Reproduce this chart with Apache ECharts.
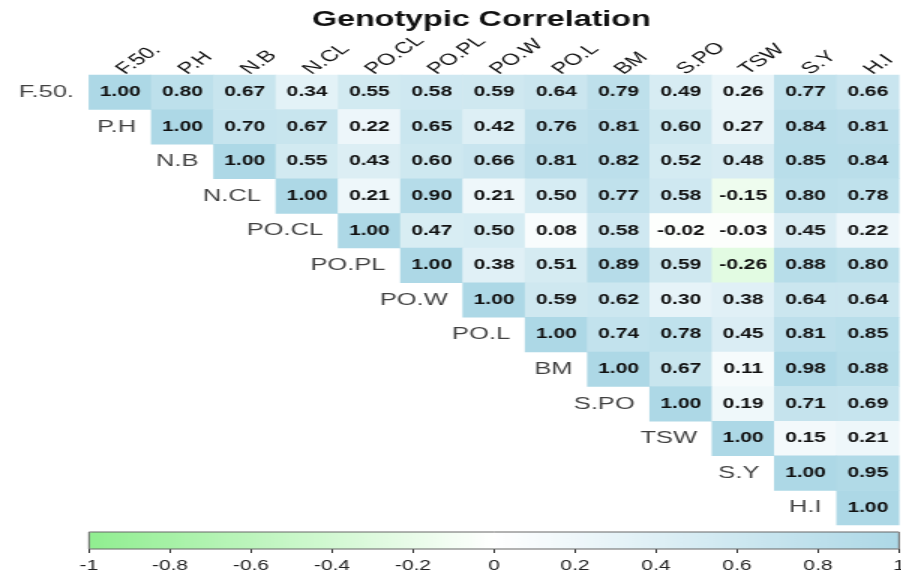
<!DOCTYPE html>
<html>
<head>
<meta charset="utf-8">
<script src="https://cdn.jsdelivr.net/npm/echarts@6/dist/echarts.min.js"></script>
<style>
  html, body { margin: 0; padding: 0; background: #fff; overflow: hidden; }
  /* the reference is a horizontally stretched R plot, so draw narrow and stretch */
  #chart { width: 601px; height: 575px; transform: scaleX(1.5); transform-origin: 0 0; }
</style>
</head>
<body>
<div id="chart"></div>
<script>
// trait names
const traits = ['F.50.', 'P.H', 'N.B', 'N.CL', 'PO.CL', 'PO.PL', 'PO.W', 'PO.L', 'BM', 'S.PO', 'TSW', 'S.Y', 'H.I'];

// upper triangle, each row starts at the diagonal
const rF50 = [1.00, 0.80, 0.67, 0.34, 0.55, 0.58, 0.59, 0.64, 0.79, 0.49, 0.26, 0.77, 0.66];
const rPH = [1.00, 0.70, 0.67, 0.22, 0.65, 0.42, 0.76, 0.81, 0.60, 0.27, 0.84, 0.81];
const rNB = [1.00, 0.55, 0.43, 0.60, 0.66, 0.81, 0.82, 0.52, 0.48, 0.85, 0.84];
const rNCL = [1.00, 0.21, 0.90, 0.21, 0.50, 0.77, 0.58, -0.15, 0.80, 0.78];
const rPOCL = [1.00, 0.47, 0.50, 0.08, 0.58, -0.02, -0.03, 0.45, 0.22];
const rPOPL = [1.00, 0.38, 0.51, 0.89, 0.59, -0.26, 0.88, 0.80];
const rPOW = [1.00, 0.59, 0.62, 0.30, 0.38, 0.64, 0.64];
const rPOL = [1.00, 0.74, 0.78, 0.45, 0.81, 0.85];
const rBM = [1.00, 0.67, 0.11, 0.98, 0.88];
const rSPO = [1.00, 0.19, 0.71, 0.69];
const rTSW = [1.00, 0.15, 0.21];
const rSY = [1.00, 0.95];
const rHI = [1.00];

// colour bar ticks
const barTicks = [-1, -0.8, -0.6, -0.4, -0.2, 0, 0.2, 0.4, 0.6, 0.8, 1];

const rows = [rF50, rPH, rNB, rNCL, rPOCL, rPOPL, rPOW, rPOL, rBM, rSPO, rTSW, rSY, rHI];
const cells = [];
rows.forEach((row, i) => {
  row.forEach((v, k) => cells.push([i + k, i, v]));
});
const diag = traits.map((t, i) => [i, i, t]);

const font = 'Liberation Sans, Arial, sans-serif';
// sizes in unstretched px (x is multiplied by 1.5 on screen)
const gridLeft = 59.33, gridW = 540, gridTop = 75, gridH = 450;
const cellW = gridW / traits.length, cellH = gridH / traits.length;
const barTop = 532, barH = 17;

const chart = echarts.init(document.getElementById('chart'));
chart.setOption({
  animation: false,
  backgroundColor: '#fff',
  title: {
    text: 'Genotypic Correlation',
    left: 203,
    top: 4,
    textStyle: { fontFamily: font, fontSize: 21.5, fontWeight: 'bold', color: '#111' }
  },
  grid: [
    { left: gridLeft, top: gridTop, width: gridW, height: gridH, outerBoundsMode: 'none' },
    { left: gridLeft, top: barTop, width: gridW, height: barH, show: true, z: 10,
      borderColor: '#666', borderWidth: 1, backgroundColor: 'transparent', outerBoundsMode: 'none' }
  ],
  xAxis: [
    {
      type: 'category', data: traits, position: 'top', gridIndex: 0,
      axisLine: { show: false }, axisTick: { show: false },
      axisLabel: { rotate: -45, margin: 3, fontFamily: font, fontSize: 16, color: '#111', interval: 0 }
    },
    {
      type: 'value', gridIndex: 1, min: -1, max: 1, interval: 0.2,
      axisLine: { show: false }, splitLine: { show: false },
      axisTick: { show: true, length: 4, lineStyle: { color: '#333' } },
      axisLabel: {
        margin: 10, fontFamily: font, fontSize: 14, color: '#222',
        formatter: v => {
          const t = barTicks.find(b => Math.abs(b - v) < 1e-6);
          return t === undefined ? '' : String(t);
        }
      }
    }
  ],
  yAxis: [
    { type: 'category', data: traits, inverse: true, gridIndex: 0, show: false },
    { type: 'value', gridIndex: 1, show: false, min: 0, max: 1 }
  ],
  visualMap: {
    type: 'continuous',
    min: -1, max: 1,
    seriesIndex: 0,
    orient: 'horizontal',
    left: gridLeft, top: barTop,
    itemWidth: barH, itemHeight: gridW,
    padding: 0,
    calculable: false,
    inRange: { color: ['#90EE90', '#FFFFFF', '#ADD8E6'] }
  },
  series: [
    {
      type: 'heatmap',
      data: cells,
      label: {
        show: true,
        fontFamily: font, fontSize: 14, fontWeight: 'bold', color: '#111',
        formatter: p => p.value[2].toFixed(2)
      },
      itemStyle: { borderWidth: 0 },
      emphasis: { disabled: true }
    },
    {
      type: 'scatter',
      data: diag,
      symbol: 'rect',
      symbolSize: [cellW, cellH],
      itemStyle: { color: 'rgba(0,0,0,0)' },
      label: {
        show: true, position: 'left', distance: 10,
        fontFamily: font, fontSize: 17, color: '#111',
        formatter: p => p.value[2]
      },
      silent: true
    }
  ]
});
</script>
</body>
</html>
